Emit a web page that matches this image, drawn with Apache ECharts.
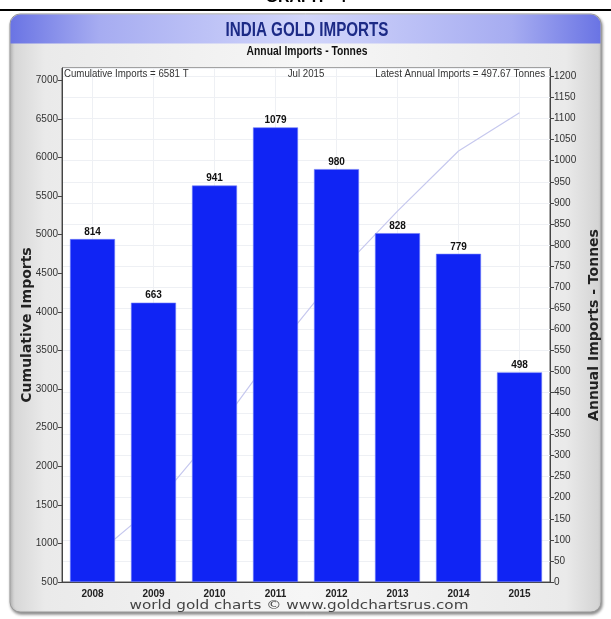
<!DOCTYPE html>
<html>
<head>
<meta charset="utf-8">
<script src="https://cdn.jsdelivr.net/npm/echarts@6/dist/echarts.min.js"></script>
<style>
html,body{margin:0;padding:0;background:#fff;}
#chart{width:611px;height:619px;}
</style>
</head>
<body>
<div id="chart"></div>
<script>
const years = ['2008','2009','2010','2011','2012','2013','2014','2015'];
const annualImports = [814, 663, 941, 1079, 980, 828, 779, 497.67];
const cumulativeImports = [814, 1477, 2418, 3497, 4477, 5305, 6084, 6581];
const leftTicks = {min: 500, max: 7160, interval: 500};
const rightTicks = {min: 0, max: 1220, interval: 50};

const sans = '"Liberation Sans", Arial, sans-serif';
const chart = echarts.init(document.getElementById('chart'), null, {renderer: 'canvas'});

function txt(text, x, y, font, fill, align, sx) {
  return {type: 'text', x: x, y: y, z: 10, scaleX: sx, originX: 0, originY: 0,
    style: {text: text, x: 0, y: 0, font: font, fill: fill, align: align, verticalAlign: 'middle'}};
}

chart.setOption({
  backgroundColor: '#ffffff',
  animation: false,
  graphic: [
    txt('GRAPH - 4', 306, -2, 'bold 16px ' + sans, '#000', 'center', 1),
    {type: 'rect', shape: {x: 0, y: 9, width: 611, height: 2}, style: {fill: '#000'}, z: 10},
    {type: 'rect', z: -10,
     shape: {x: 10, y: 14, width: 591, height: 598, r: 10},
     style: {
       fill: new echarts.graphic.LinearGradient(0, 0, 1, 0, [
         {offset: 0, color: '#d4d4d4'}, {offset: 0.06, color: '#eaeaea'},
         {offset: 0.5, color: '#f6f6f6'}, {offset: 0.94, color: '#eaeaea'},
         {offset: 1, color: '#d2d2d2'}]),
       stroke: '#9a9a9a', lineWidth: 1,
       shadowColor: 'rgba(0,0,0,0.45)', shadowBlur: 3, shadowOffsetX: 1, shadowOffsetY: 2
     }},
    {type: 'rect', z: -9,
     shape: {x: 10.5, y: 14.5, width: 590, height: 29, r: [10, 10, 0, 0]},
     style: {
       fill: new echarts.graphic.LinearGradient(0, 0, 1, 0, [
         {offset: 0, color: '#6a74e4'}, {offset: 0.15, color: '#a6acf1'},
         {offset: 0.5, color: '#d2d6fb'}, {offset: 0.85, color: '#a6acf1'},
         {offset: 1, color: '#6a74e4'}])
     }},
    txt('INDIA GOLD IMPORTS', 307, 30, 'bold 20px ' + sans, '#1c2a86', 'center', 0.76),
    txt('Annual Imports - Tonnes', 307, 52, 'bold 12px ' + sans, '#111', 'center', 0.86),
    txt('Cumulative Imports = 6581 T', 64, 74, '11px ' + sans, '#333', 'left', 0.88),
    txt('Jul 2015', 306, 74, '11px ' + sans, '#333', 'center', 0.88),
    txt('Latest Annual Imports = 497.67 Tonnes', 545, 74, '11px ' + sans, '#333', 'right', 0.885),
    txt('world gold charts \u00a9 www.goldchartsrus.com', 299, 606, '13px "DejaVu Sans", Verdana, sans-serif', '#444', 'center', 1.17)
  ],
  grid: {left: 62, right: 61, top: 68, bottom: 37, outerBoundsMode: 'none', containLabel: false,
    show: true, backgroundColor: '#ffffff', borderColor: '#555', borderWidth: 1},
  xAxis: {
    type: 'category', data: years, boundaryGap: true,
    axisLine: {lineStyle: {color: '#444'}},
    axisTick: {alignWithLabel: true, length: 4, lineStyle: {color: '#444'}},
    axisLabel: {color: '#222', fontFamily: sans, fontWeight: 'bold', fontSize: 10, margin: 7},
    splitLine: {show: true, alignWithLabel: true, lineStyle: {color: '#eef0f4'}}
  },
  yAxis: [
    {type: 'value', position: 'left', min: leftTicks.min, max: leftTicks.max, interval: leftTicks.interval,
     name: 'Cumulative Imports', nameLocation: 'middle', nameRotate: 90, nameGap: 28, nameMoveOverlap: false,
     nameTextStyle: {fontFamily: '"DejaVu Sans", Verdana, sans-serif', fontWeight: 'bold', fontSize: 14, color: '#222'},
     axisLine: {show: true, lineStyle: {color: '#444'}},
     axisTick: {show: true, length: 4, lineStyle: {color: '#444'}},
     axisLabel: {color: '#333', fontFamily: sans, fontSize: 10, margin: 4, showMaxLabel: false, formatter: v => String(v)},
     splitLine: {show: false}},
    {type: 'value', position: 'right', min: rightTicks.min, max: rightTicks.max, interval: rightTicks.interval,
     name: 'Annual Imports - Tonnes', nameLocation: 'middle', nameRotate: 90, nameGap: 37, nameMoveOverlap: false,
     nameTextStyle: {fontFamily: '"DejaVu Sans", Verdana, sans-serif', fontWeight: 'bold', fontSize: 14, color: '#222'},
     axisLine: {show: true, lineStyle: {color: '#444'}},
     axisTick: {show: true, length: 4, lineStyle: {color: '#444'}},
     axisLabel: {color: '#333', fontFamily: sans, fontSize: 10, margin: 4, showMaxLabel: false, formatter: v => String(v)},
     splitLine: {show: true, lineStyle: {color: '#eef0f4'}}}
  ],
  series: [
    {type: 'line', name: 'Cumulative', yAxisIndex: 0, data: cumulativeImports, symbol: 'none', z: 1,
     lineStyle: {color: '#c6c8ee', width: 1.2}},
    {type: 'bar', name: 'Annual', yAxisIndex: 1, data: annualImports, barWidth: 45, z: 3,
     itemStyle: {color: '#1024f4', borderColor: '#6f7cf8', borderWidth: 0.6},
     label: {show: true, position: 'top', distance: 2, color: '#111', fontFamily: sans, fontWeight: 'bold', fontSize: 10,
       formatter: p => Math.round(p.value)}}
  ]
});
</script>
</body>
</html>
